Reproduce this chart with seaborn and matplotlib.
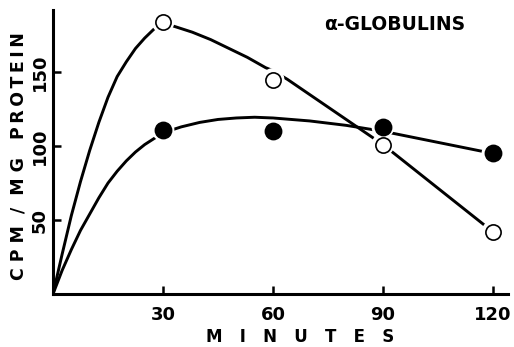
import matplotlib
matplotlib.use("Agg")
import matplotlib.pyplot as plt
import seaborn as sns
import pandas as pd

# measured points
minutes = [30, 60, 90, 120]
open_vals = [184, 145, 101, 42]
filled_vals = [111, 110, 113, 95]

# hand-drawn fitted curves
open_curve_min = [0, 2.5, 5, 7.5, 10, 12.5, 15, 17.5, 20, 22.5, 25, 27.5, 30,
                  33, 38, 43, 48, 53, 58, 60, 64, 90, 120]
open_curve_val = [0, 27, 53, 76, 97, 116, 133, 147, 157, 166, 173, 179, 183,
                  181, 177, 172, 166, 160, 153, 151, 145, 101, 42]
filled_curve_min = [0, 2.5, 5, 7.5, 10, 12.5, 15, 17.5, 20, 22.5, 25, 27.5, 30,
                    35, 40, 45, 50, 55, 60, 65, 70, 75, 80, 85, 90, 120]
filled_curve_val = [0, 16, 30, 43, 54, 65, 75, 83, 90, 96, 101, 105, 109,
                    113, 116, 118, 119, 119.5, 119, 118, 117, 115.5, 114, 112, 110, 95]

xticks = [30, 60, 90, 120]
xtick_labels = ["30", "60", "90", "120"]
yticks = [50, 100, 150]
ytick_labels = ["50", "100", "150"]
title = "\u03b1-GLOBULINS"
xlabel = "M   I   N   U   T   E   S"
ylabel = "C P M  /  M G   P\u2009R\u2009O\u2009T\u2009E\u2009I\u2009N"

sns.set_style("ticks")
plt.rcParams['font.family'] = ['DejaVu Sans']
plt.rcParams['text.color'] = 'black'
plt.rcParams['xtick.color'] = 'black'
plt.rcParams['ytick.color'] = 'black'
plt.rcParams['xtick.labelcolor'] = 'black'
plt.rcParams['ytick.labelcolor'] = 'black'

fig = plt.figure(figsize=(5.14, 3.47), dpi=100)
ax = fig.add_axes([53/514, 53/347, 455/514, 284/347])

oc = pd.DataFrame({"m": open_curve_min, "v": open_curve_val})
fc = pd.DataFrame({"m": filled_curve_min, "v": filled_curve_val})
pts = pd.DataFrame({"m": minutes, "o": open_vals, "f": filled_vals})

sns.lineplot(data=oc, x="m", y="v", ax=ax, color="black", lw=2.1, sort=False, estimator=None)
sns.lineplot(data=fc, x="m", y="v", ax=ax, color="black", lw=2.1, sort=False, estimator=None)

# white halos to make the gaps around markers
sns.scatterplot(data=pts, x="m", y="o", ax=ax, s=270, color="white", edgecolor="none", zorder=3)
sns.scatterplot(data=pts, x="m", y="f", ax=ax, s=270, color="white", edgecolor="none", zorder=3)

sns.scatterplot(data=pts, x="m", y="o", ax=ax, s=120, facecolor="white", edgecolor="black",
                linewidth=1.2, zorder=4)
sns.scatterplot(data=pts, x="m", y="f", ax=ax, s=165, color="black", edgecolor="black",
                linewidth=0, zorder=4)

ax.set_xlim(0, 124.1)
ax.set_ylim(0, 192)
ax.set_xticks(xticks, labels=xtick_labels, fontsize=13, fontweight="bold")
ax.set_yticks(yticks, labels=ytick_labels, fontsize=13, fontweight="bold",
              rotation=90, va="center")
ax.tick_params(axis="both", direction="in", length=6, width=1.8, colors="black")
ax.tick_params(axis="x", pad=9)
ax.tick_params(axis="y", pad=3)

for s in ["top", "right"]:
    ax.spines[s].set_visible(False)
for s in ["left", "bottom"]:
    ax.spines[s].set_linewidth(2.2)
    ax.spines[s].set_color("black")

ax.set_xlabel("")
ax.set_ylabel("")
fig.text(300/514, 1 - 337/347, xlabel, ha="center", va="center", fontsize=12,
         fontweight="bold", color="black")
fig.text(19/514, 1 - 156/347, ylabel, ha="center", va="center", fontsize=12.5,
         fontweight="bold", rotation=90, color="black")
fig.text(395/514, 1 - 25/347, title, ha="center", va="center", fontsize=13.5,
         fontweight="bold", color="black")

fig.savefig("out.png", dpi=100)
